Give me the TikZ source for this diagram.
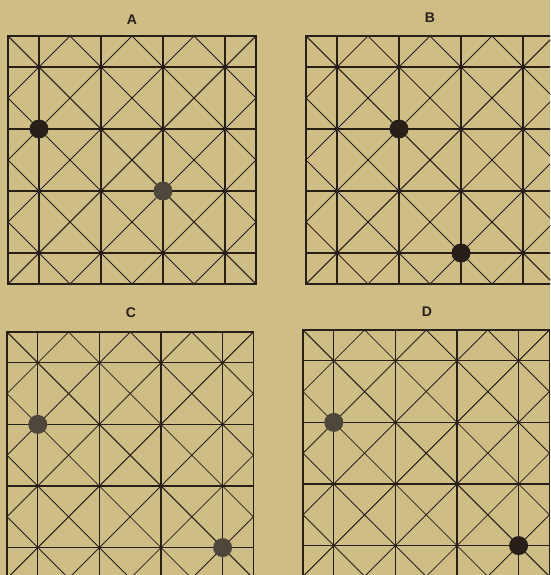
\documentclass[tikz,border=0pt]{standalone}
\usepackage{fontspec}
\setsansfont{Liberation Sans}
\definecolor{paper}{RGB}{207,189,134}
\definecolor{ink}{RGB}{40,32,24}
\definecolor{stonegrey}{RGB}{78,71,60}

% one board: 8x8 half-units, lines on the odd ones, diagonals through them
\newcommand{\crossboard}{%
  \draw[boardframe] (0,0) rectangle (8,8);
  \foreach \i in {1,3,5,7} {
    \draw[gridline] (\i,0) -- (\i,8);
    \draw[gridline] (0,\i) -- (8,\i);
  }
  \foreach \k in {0,2,4,6} {
    \draw[diag] (\k,0) -- (8,8-\k);
    \draw[diag] (0,\k) -- (8-\k,8);
    \draw[diag] (8-\k,0) -- (0,8-\k);
    \draw[diag] (8,\k) -- (\k,8);
  }%
}

\begin{document}
\begin{tikzpicture}[x=1pt, y=-1pt,
    boardframe/.style={draw=ink, line width=1.4pt},
    gridline/.style={draw=ink, line width=1.1pt},
    diag/.style={draw=ink, line width=0.8pt},
    stone/.style={circle, fill=ink, minimum size=19pt, inner sep=0pt},
    greystone/.style={stone, fill=stonegrey},
    boardname/.style={font=\sffamily\bfseries\fontsize{14}{14}\selectfont, text=ink},
]
\useasboundingbox (0,0) rectangle (550,575);
\fill[paper] (0,0) rectangle (550,575);
\clip (0,0) rectangle (550,575);

\node[boardname] (nameA) at (132,20) {A};
\node[boardname] (nameB) at (430,18) {B};
\node[boardname] (nameC) at (131,313) {C};
\node[boardname] (nameD) at (427,312) {D};

% A
\begin{scope}[shift={(8,36)}, x=31pt, y=-31pt]
  \crossboard
  \node[stone] (stoneA1) at (1,3) {};
  \node[greystone] (stoneA2) at (5,5) {};
\end{scope}

% B
\begin{scope}[shift={(306,36)}, x=31pt, y=-31pt]
  \crossboard
  \node[stone] (stoneB1) at (3,3) {};
  \node[stone] (stoneB2) at (5,7) {};
\end{scope}

% C
\begin{scope}[shift={(7,332)}, x=30.8pt, y=-30.8pt]
  \crossboard
  \node[greystone] (stoneC1) at (1,3) {};
  \node[greystone] (stoneC2) at (7,7) {};
\end{scope}

% D
\begin{scope}[shift={(303,330)}, x=30.8pt, y=-30.8pt]
  \crossboard
  \node[greystone] (stoneD1) at (1,3) {};
  \node[stone] (stoneD2) at (7,7) {};
\end{scope}

\end{tikzpicture}
\end{document}
